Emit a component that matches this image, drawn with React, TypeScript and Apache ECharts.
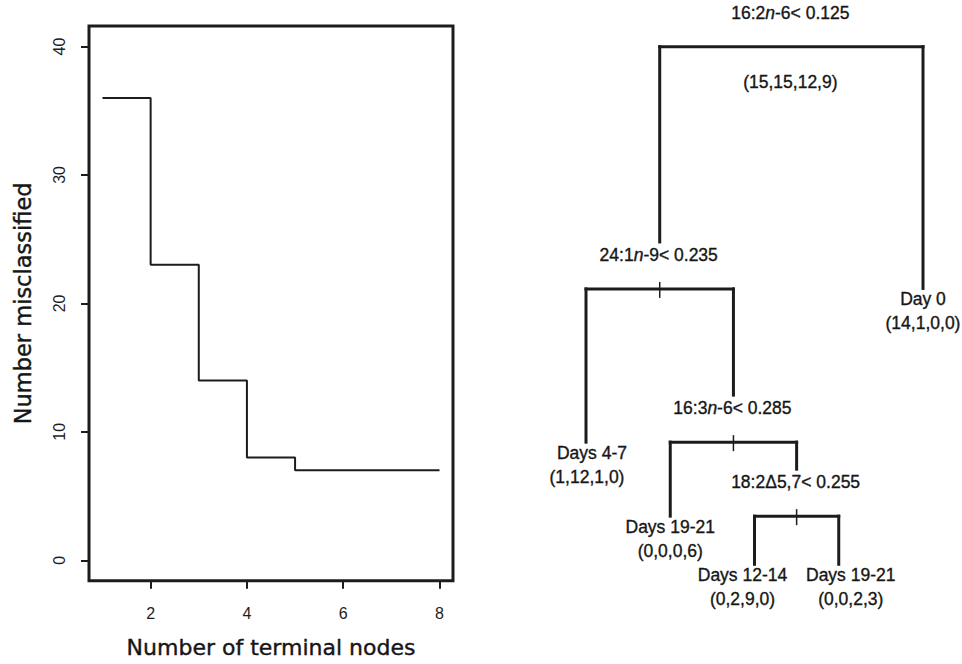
import React, { useEffect, useRef } from "react";
import * as echarts from "echarts";

// ---- Left panel: cost-complexity step curve ----
const terminalNodes = [1, 2, 3, 4, 5, 6, 7, 8];
const misclassified = [36, 23, 14, 8, 7, 7, 7, 7];
const xTickValues = [2, 4, 6, 8];
const yTickValues = [0, 10, 20, 30, 40];

// ---- Right panel: classification tree ----
const nodeIds = ["root", "n24", "day0", "days4_7", "n16", "d19a", "n18", "d12", "d19b"];
const nodeParents = [null, "root", "root", "n24", "n24", "n16", "n16", "n18", "n18"];
const nodeSplits = [
  "16:2{i|n}-6< 0.125",
  "24:1{i|n}-9< 0.235",
  "",
  "",
  "16:3{i|n}-6< 0.285",
  "",
  "18:2\u03945,7< 0.255",
  "",
  "",
];
const nodeLeafNames = ["", "", "Day 0", "Days 4-7", "", "Days 19-21", "", "Days 12-14", "Days 19-21"];
const nodeCounts = ["(15,15,12,9)", "", "(14,1,0,0)", "(1,12,1,0)", "", "(0,0,0,6)", "", "(0,2,9,0)", "(0,0,2,3)"];
const nodeHeights = [100, 53.2, 53.3, 23.6, 23.6, 9.3, 9.3, 0, 0];
const leafOrder = ["days4_7", "d19a", "d12", "d19b", "day0"];

// label nudges (style only, pixels)
const leafNameNudge: Record<string, number> = { days4_7: 6, d12: -12, d19b: 12 };
const leafCountNudge: Record<string, number> = { days4_7: 1, d12: -12, d19b: 12 };

function layoutTree() {
  const children: Record<string, string[]> = {};
  nodeIds.forEach((id) => (children[id] = []));
  nodeParents.forEach((p, i) => {
    if (p) children[p].push(nodeIds[i]);
  });
  const xPos: Record<string, number> = {};
  leafOrder.forEach((id, i) => (xPos[id] = i + 1));
  const place = (id: string): number => {
    if (xPos[id] !== undefined) return xPos[id];
    const c = children[id].map(place);
    xPos[id] = (Math.min(...c) + Math.max(...c)) / 2;
    return xPos[id];
  };
  nodeIds.forEach(place);
  return { children, xPos };
}

export default function App() {
  const ref = useRef<HTMLDivElement>(null);
  useEffect(() => {
    if (!ref.current) return;
    const chart = echarts.init(ref.current, undefined, { renderer: "svg" });
    const { children, xPos } = layoutTree();
    const LINE = "#1c1c1c";
    const TEXT = "#161616";
    const treeFont = "Liberation Sans, Arial, sans-serif";

    const renderItem = (params: any, api: any) => {
      const i = params.dataIndex;
      const id = nodeIds[i];
      const [px, py] = api.coord([xPos[id], nodeHeights[i]]);
      const kids = children[id];
      const isLeaf = kids.length === 0;
      const parent = nodeParents[i];
      const els: any[] = [];
      const mainLine = (x1: number, y1: number, x2: number, y2: number) => ({
        type: "line",
        shape: { x1, y1, x2, y2 },
        style: { stroke: LINE, lineWidth: 3, lineCap: "square" },
      });
      const txt = (text: string, x: number, y: number) => ({
        type: "text",
        style: {
          text,
          x,
          y,
          align: "center",
          verticalAlign: "middle",
          fill: TEXT,
          stroke: TEXT,
          lineWidth: 0.35,
          fontSize: 17.5,
          fontFamily: treeFont,
          rich: {
            i: { fontStyle: "italic", fontSize: 17.5, fontFamily: treeFont, fill: TEXT, stroke: TEXT, lineWidth: 0.35 },
          },
        },
      });
      if (parent) {
        const pi = nodeIds.indexOf(parent);
        const [, ppy] = api.coord([xPos[parent], nodeHeights[pi]]);
        els.push(mainLine(px, ppy, px, isLeaf ? py : py - 47));
      }
      if (!isLeaf) {
        const xs = kids.map((k) => api.coord([xPos[k], nodeHeights[i]])[0]);
        els.push(mainLine(Math.min(...xs), py, Math.max(...xs), py));
        if (parent) {
          els.push({
            type: "line",
            shape: { x1: px, y1: py - 7, x2: px, y2: py + 9 },
            style: { stroke: LINE, lineWidth: 1.5 },
          });
        }
        els.push(txt(nodeSplits[i], px - 1, py - 34));
        if (nodeCounts[i]) els.push(txt(nodeCounts[i], px - 1, py + 35));
      } else {
        els.push(txt(nodeLeafNames[i], px + (leafNameNudge[id] || 0), py + 11));
        els.push(txt(nodeCounts[i], px + (leafCountNudge[id] || 0), py + 35));
      }
      return { type: "group", children: els };
    };

    const axisFont = "DejaVu Sans, sans-serif";
    chart.setOption({
      animation: false,
      backgroundColor: "#ffffff",
      grid: [
        {
          left: 89,
          top: 26,
          width: 364,
          height: 557,
          show: true,
          borderColor: LINE,
          borderWidth: 3,
          backgroundColor: "transparent",
        },
        { left: 586, top: 46.7, width: 337, height: 517.6, show: false },
      ],
      xAxis: [
        {
          type: "value",
          gridIndex: 0,
          min: 0.72,
          max: 8.28,
          axisLine: { show: false, onZero: false },
          splitLine: { show: false },
          axisTick: { show: true, inside: false, customValues: xTickValues, length: 8, lineStyle: { color: LINE, width: 2 } },
          axisLabel: {
            customValues: xTickValues,
            margin: 25,
            color: "#1e1e1e",
            fontSize: 16,
          },
          name: "Number of terminal nodes",
          nameLocation: "middle",
          nameGap: 56,
          nameTextStyle: {
            fontSize: 22,
            fontFamily: axisFont,
            color: TEXT,
            textBorderColor: TEXT,
            textBorderWidth: 0.4,
          },
        },
        { type: "value", gridIndex: 1, min: 1, max: 5, show: false },
      ],
      yAxis: [
        {
          type: "value",
          gridIndex: 0,
          min: -1.6,
          max: 41.6,
          axisLine: { show: false, onZero: false },
          splitLine: { show: false },
          axisTick: { show: true, inside: false, customValues: yTickValues, length: 8, lineStyle: { color: LINE, width: 2 } },
          axisLabel: {
            customValues: yTickValues,
            rotate: 90,
            margin: 22,
            color: "#1e1e1e",
            fontSize: 16,
          },
          name: "Number misclassified",
          nameLocation: "middle",
          nameRotate: 90,
          nameGap: 55,
          nameTextStyle: {
            fontSize: 22.5,
            fontFamily: axisFont,
            color: TEXT,
            textBorderColor: TEXT,
            textBorderWidth: 0.4,
          },
        },
        { type: "value", gridIndex: 1, min: 0, max: 100, show: false },
      ],
      series: [
        {
          type: "line",
          xAxisIndex: 0,
          yAxisIndex: 0,
          step: "end",
          symbol: "none",
          data: terminalNodes.map((x, i) => [x, misclassified[i]]),
          lineStyle: { color: LINE, width: 2 },
        },
        {
          type: "custom",
          xAxisIndex: 1,
          yAxisIndex: 1,
          clip: false,
          renderItem,
          data: nodeIds.map((id, i) => [i, nodeHeights[i]]),
          encode: { x: 0, y: 1 },
        },
      ],
    });
    return () => chart.dispose();
  }, []);
  return (
    <div
      ref={ref}
      style={{ position: "fixed", left: 0, top: 0, width: 962, height: 664, background: "#fff" }}
    />
  );
}
